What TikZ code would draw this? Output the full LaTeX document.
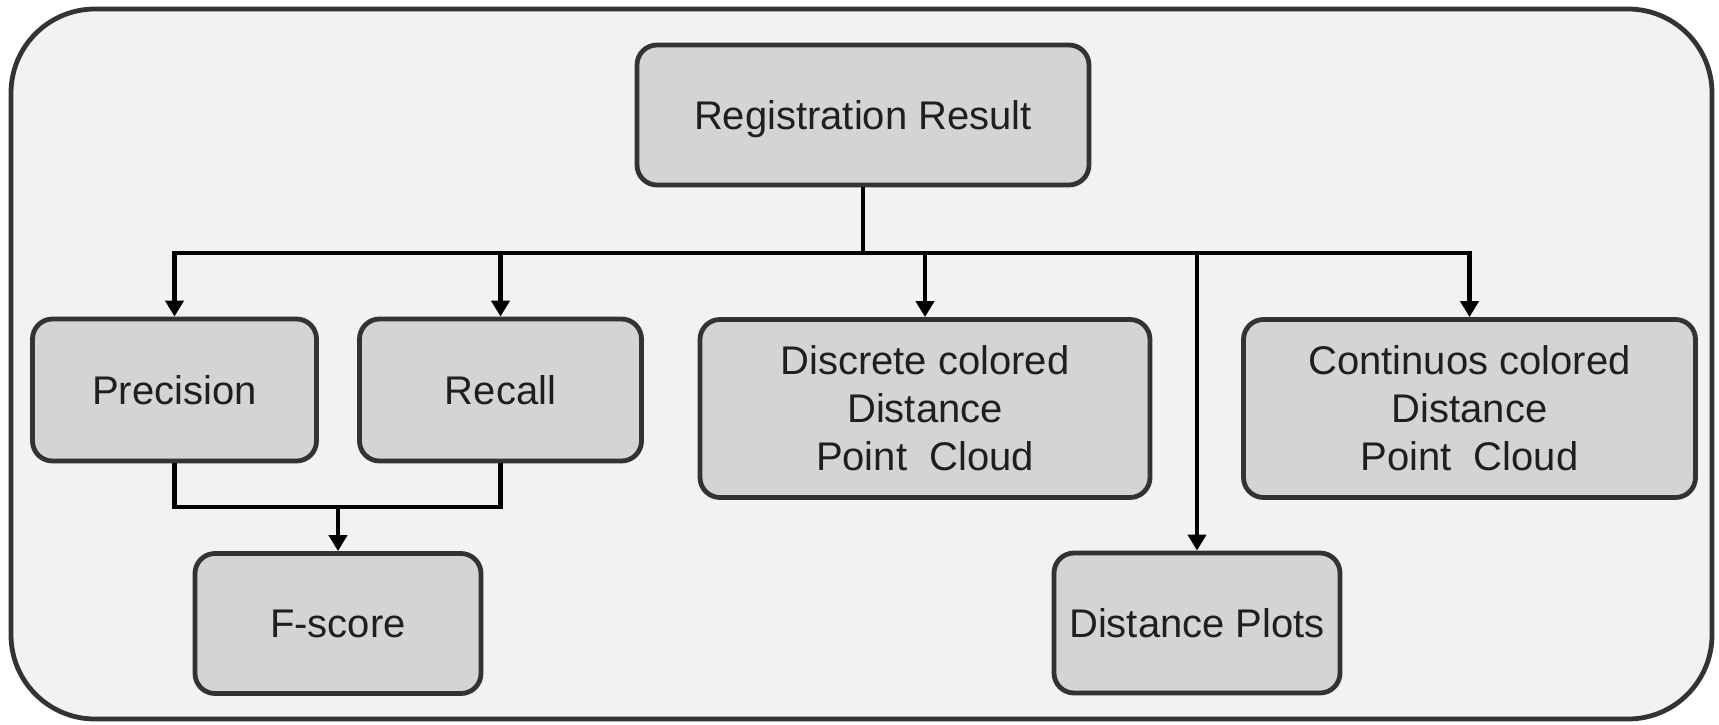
\documentclass[tikz,border=0pt]{standalone}
\usepackage{fontspec}
\setmainfont{Liberation Sans}
\usepackage{xcolor}
\usetikzlibrary{arrows.meta}
\definecolor{panelgray}{HTML}{F2F2F2}
\definecolor{boxgray}{HTML}{D4D4D4}
\definecolor{edgegray}{HTML}{333333}

\begin{document}
\begin{tikzpicture}[x=0.5pt, y=-0.5pt,
  box/.style={draw=edgegray, line width=2.4pt, fill=boxgray, rounded corners=10pt,
    align=center, inner sep=0pt, font=\fontsize{20}{24}\selectfont, text=black!88},
  wire/.style={line width=2.3pt, draw=black},
  feed/.style={wire, -{Triangle[length=8pt, width=9pt]}}]
  \useasboundingbox (0,0) rectangle (1719,724);
  \draw[draw=edgegray, line width=2.4pt, fill=panelgray, rounded corners=42pt]
    (11,9) rectangle (1712,719);

  \node[box, minimum width=226pt, minimum height=70pt, text depth=0pt] (reg) at (863,115) {Registration Result};
  \node[box, minimum width=142pt, minimum height=71pt] (prec) at (174.5,390) {Precision};
  \node[box, minimum width=141pt, minimum height=71pt] (rec) at (500.5,390) {Recall};
  \node[box, minimum width=143pt, minimum height=70pt] (fsc) at (338,623.5) {F-score};
  \node[box, minimum width=225pt, minimum height=89pt] (disc) at (925,408.5)
    {Discrete colored\\Distance\\Point\ \ Cloud};
  \node[box, minimum width=226pt, minimum height=89pt] (cont) at (1469.5,408.5)
    {Continuos colored\\Distance\\Point\ \ Cloud};
  \node[box, minimum width=143pt, minimum height=70pt] (plots) at (1197,623) {Distance Plots};

  \coordinate (bus) at (863,253);
  \coordinate (join) at (338,507);

  \draw[wire] (reg.south) -- (bus);
  \draw[feed] (bus) -| (prec.north);
  \draw[feed] (bus) -| (rec.north);
  \draw[feed] (bus) -| (disc.north);
  \draw[feed] (bus) -| (plots.north);
  \draw[feed] (bus) -| (cont.north);

  \draw[wire] (prec.south) |- (join);
  \draw[wire] (rec.south) |- (join);
  \draw[feed] (join) -- (fsc.north);
\end{tikzpicture}
\end{document}
